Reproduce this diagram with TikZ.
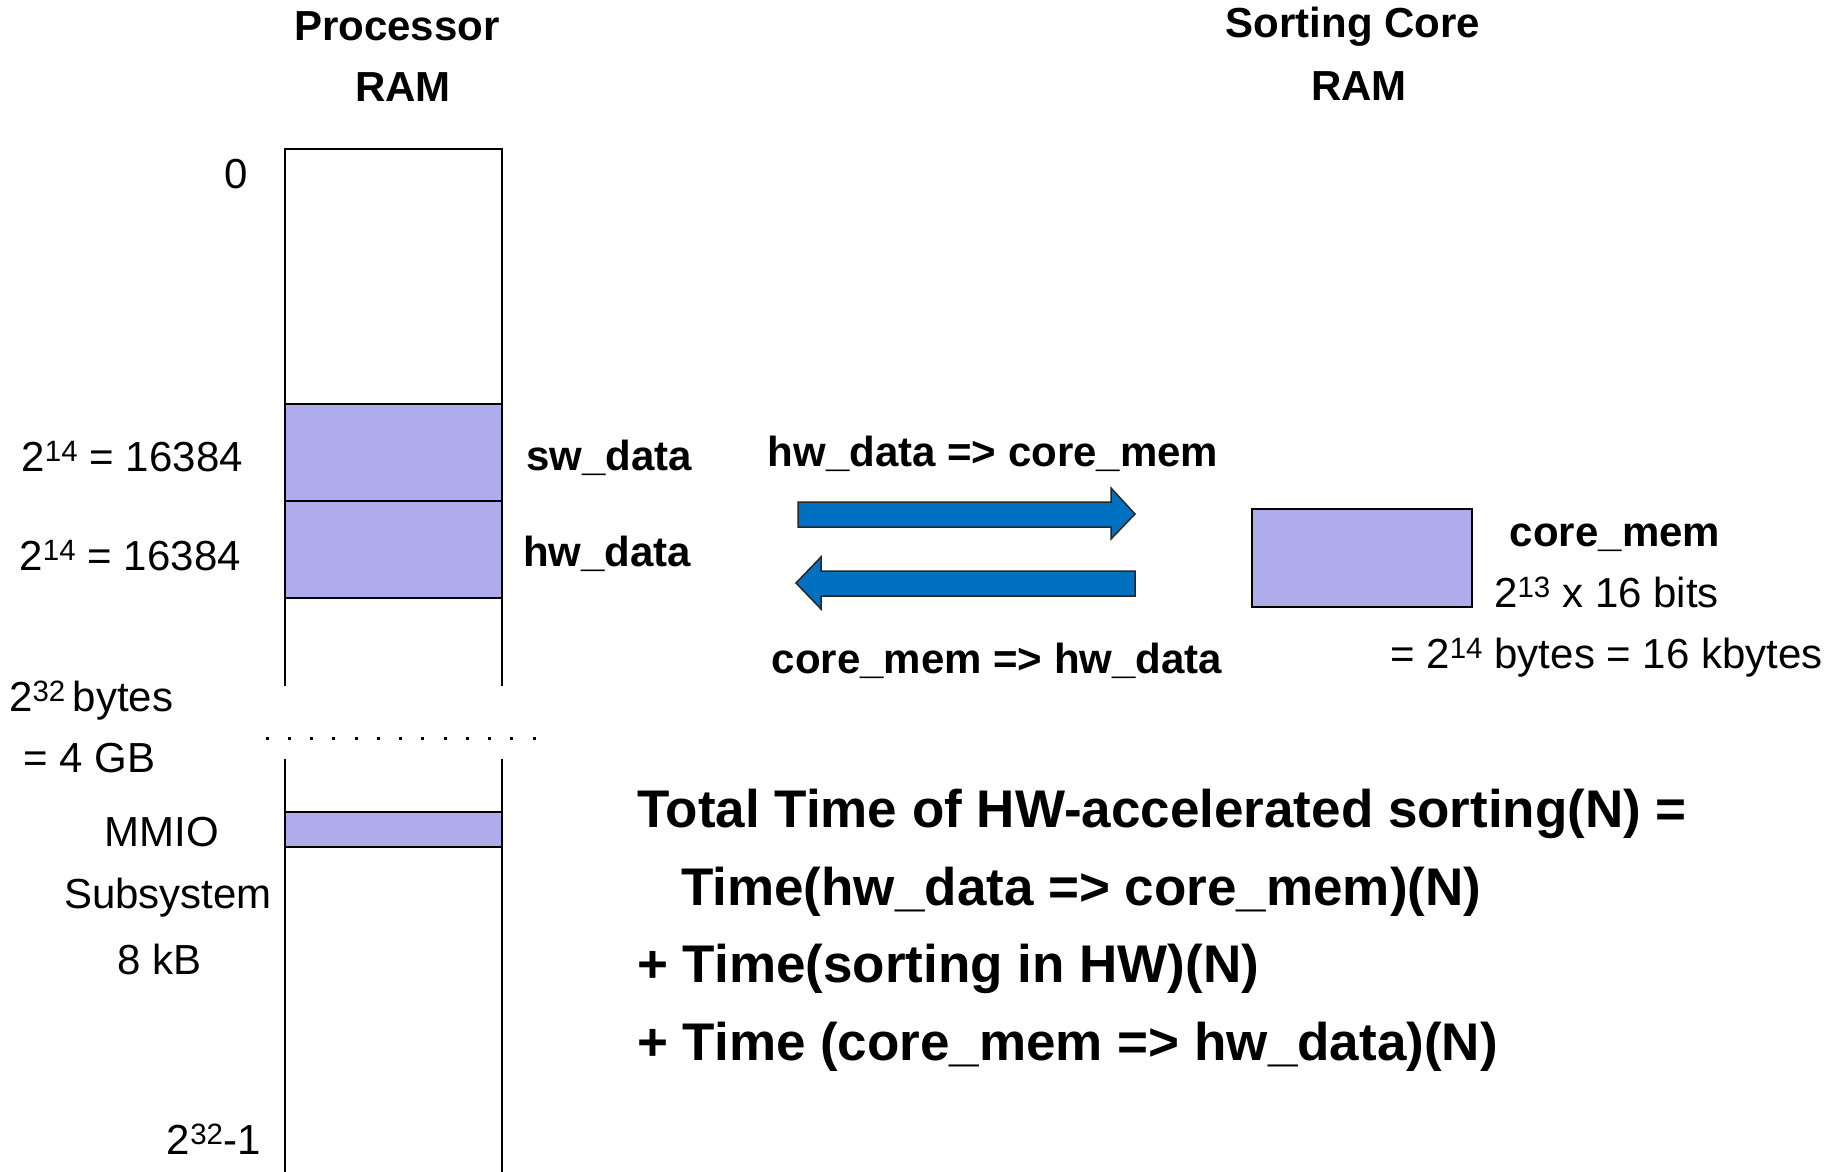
\documentclass[tikz,border=0pt]{standalone}
\usepackage{fontspec}
\setmainfont{Liberation Sans}
\definecolor{bandfill}{RGB}{174,172,235}
\definecolor{arrowblue}{RGB}{0,112,192}
\begin{document}
\begin{tikzpicture}[x=1pt,y=-1pt,
  memline/.style={line width=2pt,black},
  band/.style={draw=black,line width=2pt,fill=bandfill},
  hdr/.style={font=\fontsize{42}{50}\selectfont\bfseries,inner sep=0pt,text height=30pt,text depth=0pt},
  num/.style={font=\fontsize{42}{50}\selectfont,inner sep=0pt,text height=30pt,text depth=0pt},
  big/.style={font=\fontsize{53}{64}\selectfont\bfseries,inner sep=0pt,text height=38pt,text depth=0pt,anchor=west},
  blockarrow/.style={fill=arrowblue,draw=black!85,line width=1.5pt,line join=miter}]
\useasboundingbox (0,0) rectangle (1842,1172);

% column titles
\node[hdr] (ptitle1) at (397,26) {Processor};
\node[hdr] (ptitle2) at (403,86) {RAM};
\node[hdr] (stitle1) at (1353,23) {Sorting Core};
\node[hdr] (stitle2) at (1359,85) {RAM};

% processor memory column, broken by the dotted gap
\draw[memline] (285,686) -- (285,149) -- (502,149) -- (502,686);
\draw[memline] (285,759) -- (285,1172);
\draw[memline] (502,759) -- (502,1172);
\foreach \i in {0,...,12}
  \fill (267+\i*22.25-1.5,736.5) rectangle ++(3,3);

% occupied regions
\node[band,minimum width=217pt,minimum height=97pt,inner sep=0pt] (sw) at (393.5,452) {};
\node[band,minimum width=217pt,minimum height=97pt,inner sep=0pt] (hw) at (393.5,549) {};
\node[band,minimum width=217pt,minimum height=35pt,inner sep=0pt] (mmio) at (393.5,829.5) {};

% address labels
\node[num] (a0) at (236,173) {0};
\node[num,anchor=east] (a1) at (243,456) {2\textsuperscript{14} = 16384};
\node[num,anchor=east] (a2) at (241,555) {2\textsuperscript{14} = 16384};
\node[num,anchor=west] (sz1) at (9,696) {2\textsuperscript{32}\,bytes};
\node[num,anchor=west] (sz2) at (23,757) {= 4 GB};
\node[num] (m1) at (162,831) {MMIO};
\node[num] (m2) at (168,893) {Subsystem};
\node[num] (m3) at (160,959) {8 kB};
\node[num,anchor=east] (alast) at (261,1139) {2\textsuperscript{32}-1};

% region names
\node[hdr,anchor=west] (swl) at (526,455) {sw\_data};
\node[hdr,anchor=west] (hwl) at (523,551) {hw\_data};

% transfer arrows
\draw[blockarrow] (798,502) -- (1111,502) -- (1111,488) -- (1135,514)
  -- (1111,539) -- (1111,527) -- (798,527) -- cycle;
\draw[blockarrow] (1135,571) -- (821,571) -- (821,557) -- (796,583)
  -- (821,609) -- (821,596) -- (1135,596) -- cycle;
\node[hdr] (tofwd) at (993,451) {hw\_data => core\_mem};
\node[hdr] (toback) at (997,658) {core\_mem => hw\_data};

% sorting core memory
\node[band,minimum width=220pt,minimum height=98pt,inner sep=0pt] (core) at (1362,558) {};
\node[hdr] (corel) at (1615,531) {core\_mem};
\node[num,anchor=west] (core2) at (1494,592) {2\textsuperscript{13} x 16 bits};
\node[num,anchor=west] (core3) at (1390,653) {= 2\textsuperscript{14} bytes = 16 kbytes};

% timing formula
\node[big] (t1) at (637,808) {Total Time of HW-accelerated sorting(N) =};
\node[big] (t2) at (681,886) {Time(hw\_data => core\_mem)(N)};
\node[big] (t3) at (637,963) {+ Time(sorting in HW)(N)};
\node[big] (t4) at (637,1041) {+ Time (core\_mem => hw\_data)(N)};
\end{tikzpicture}
\end{document}
